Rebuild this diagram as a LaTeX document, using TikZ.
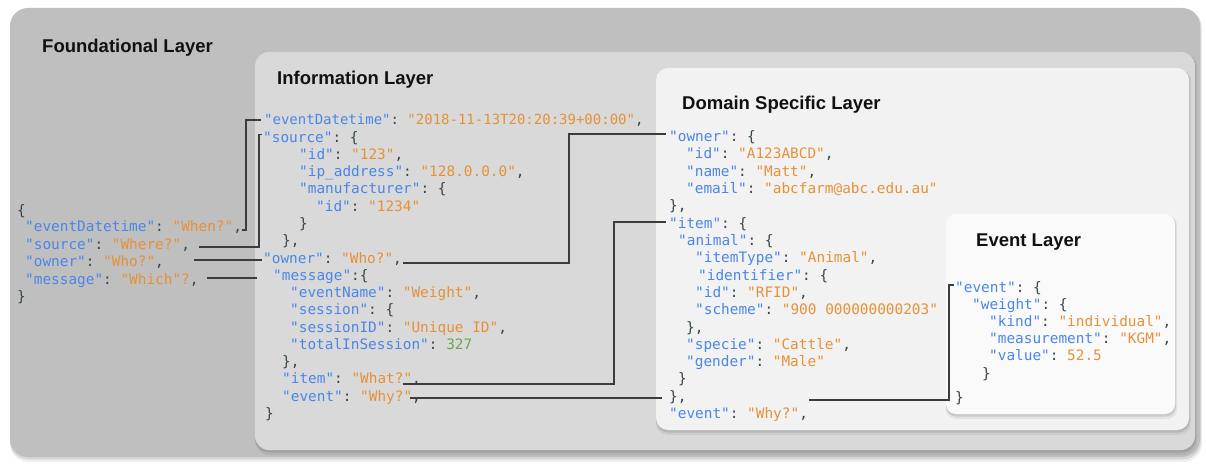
\documentclass[tikz,border=0pt]{standalone}
\usepackage{fontspec}
\setmainfont{Liberation Sans}
\setmonofont{DejaVu Sans Mono}
\usetikzlibrary{calc}

\definecolor{keyblue}{HTML}{4A86E8}
\definecolor{strorange}{HTML}{E69138}
\definecolor{numgreen}{HTML}{6AA84F}
\definecolor{punct}{HTML}{374646}
\definecolor{foundfill}{HTML}{BFBFBF}
\definecolor{infofill}{HTML}{D9D9D9}
\definecolor{domfill}{HTML}{F2F2F2}
\definecolor{evtfill}{HTML}{FAFAFA}
\definecolor{linkcol}{HTML}{3C3C3C}
\definecolor{titlecol}{HTML}{111111}

% JSON colouring: keys, string values, numbers
\newcommand\jk[1]{\textcolor{keyblue}{#1}}
\newcommand\js[1]{\textcolor{strorange}{#1}}
\newcommand\jn[1]{\textcolor{numgreen}{#1}}

\tikzset{
  layertitle/.style={anchor=base west, inner sep=0pt, text=titlecol,
    font=\fontsize{18.5}{22}\selectfont\bfseries},
  code/.style={anchor=base west, inner sep=0pt, text=punct,
    font=\fontsize{14.4}{17}\selectfont\ttfamily},
  smallcode/.style={code, font=\fontsize{14}{17}\selectfont\ttfamily},
  link/.style={draw=linkcol, line width=1.05pt},
  softshadow/.style={fill=black, opacity=#1},
}

% a layer panel with a soft shadow underneath
\newcommand\layerpanel[6]{%
  \fill[softshadow=0.06, rounded corners=#5] ($(#1,#2)+(0,1)$) rectangle ($(#3,#4)+(2,5)$);
  \fill[softshadow=0.10, rounded corners=#5] ($(#1,#2)+(0,1)$) rectangle ($(#3,#4)+(1,2.5)$);
  \fill[#6, rounded corners=#5] (#1,#2) rectangle (#3,#4);
}

\begin{document}
\begin{tikzpicture}[x=1pt, y=-1pt]
\useasboundingbox (0,0) rectangle (1206,470);
\fill[white] (0,0) rectangle (1206,470);

% nested layers
\layerpanel{10}{8}{1200}{457}{18pt}{foundfill}
\layerpanel{255}{52}{1195}{450}{14pt}{infofill}
\layerpanel{656}{68}{1189}{430}{12pt}{domfill}
\layerpanel{946}{214}{1175}{414}{10pt}{evtfill}

% layer titles
\node[layertitle] (tFound) at (42,52.3) {Foundational Layer};
\node[layertitle] (tInfo) at (277,84.3) {Information Layer};
\node[layertitle] (tDom) at (682,109.3) {Domain Specific Layer};
\node[layertitle] (tEvt) at (976,246.3) {Event Layer};

% foundational record
\node[code] (fOpen) at (17,215) {\{};
\node[code] (fEvt) at (25,232) {\jk{"eventDatetime"}: \js{"When?"},};
\node[code] (fSrc) at (25,249.3) {\jk{"source"}: \js{"Where?"},};
\node[code] (fOwn) at (25,266.6) {\jk{"owner"}: \js{"Who?"},};
\node[code] (fMsg) at (25,284) {\jk{"message"}: \js{"Which"?},};
\node[code] (fClose) at (17,301.3) {\}};

% information record
\node[smallcode] (iEvt) at (264,125) {\jk{"eventDatetime"}: \js{"2018-11-13T20:20:39+00:00"},};
\node[code] (iSrc) at (263,142.25) {\jk{"source"}: \{};
\node[code] (iSrcId) at (299,159.5) {\jk{"id"}: \js{"123"},};
\node[code] (iIp) at (299,176.75) {\jk{"ip\_address"}: \js{"128.0.0.0"},};
\node[code] (iMan) at (299,194) {\jk{"manufacturer"}: \{};
\node[code] (iManId) at (316,211.25) {\jk{"id"}: \js{"1234"}};
\node[code] (iManEnd) at (299,228.5) {\}};
\node[code] (iSrcEnd) at (282,245.75) {\},};
\node[code] (iOwn) at (263,263) {\jk{"owner"}: \js{"Who?"},};
\node[code] (iMsg) at (273,280.25) {\jk{"message"}:\{};
\node[code] (iName) at (290,297.5) {\jk{"eventName"}: \js{"Weight"},};
\node[code] (iSess) at (290,314.75) {\jk{"session"}: \{};
\node[code] (iSessId) at (290,332) {\jk{"sessionID"}: \js{"Unique ID"},};
\node[code] (iTotal) at (290,349.25) {\jk{"totalInSession"}: \jn{327}};
\node[code] (iSessEnd) at (282,366.5) {\},};
\node[code] (iItem) at (282,383.75) {\jk{"item"}: \js{"What?"},};
\node[code] (iEvent) at (282,401) {\jk{"event"}: \js{"Why?"},};
\node[code] (iClose) at (265,418.25) {\}};

% domain specific record
\node[code] (dOwn) at (669,141.7) {\jk{"owner"}: \{};
\node[code] (dId) at (686,159) {\jk{"id"}: \js{"A123ABCD"},};
\node[code] (dName) at (686,176.3) {\jk{"name"}: \js{"Matt"},};
\node[code] (dMail) at (686,193.6) {\jk{"email"}: \js{"abcfarm@abc.edu.au"}};
\node[code] (dOwnEnd) at (669,210.9) {\},};
\node[code] (dItem) at (669,228.2) {\jk{"item"}: \{};
\node[code] (dAnimal) at (678,245.5) {\jk{"animal"}: \{};
\node[code] (dType) at (695,262.8) {\jk{"itemType"}: \js{"Animal"},};
\node[code] (dIdent) at (698,280.1) {\jk{"identifier"}: \{};
\node[code] (dRfid) at (695,297.4) {\jk{"id"}: \js{"RFID"},};
\node[code] (dScheme) at (695,314.7) {\jk{"scheme"}: \js{"900 000000000203"}};
\node[code] (dIdentEnd) at (686,332) {\},};
\node[code] (dSpecie) at (686,349.3) {\jk{"specie"}: \js{"Cattle"},};
\node[code] (dGender) at (686,366.6) {\jk{"gender"}: \js{"Male"}};
\node[code] (dAnimalEnd) at (678,383.9) {\}};
\node[code] (dItemEnd) at (669,401.2) {\},};
\node[code] (dEvent) at (669,418.5) {\jk{"event"}: \js{"Why?"},};

% event record
\node[code] (eEvt) at (955,292.5) {\jk{"event"}: \{};
\node[code] (eWeight) at (972,309.6) {\jk{"weight"}: \{};
\node[code] (eKind) at (989,326.7) {\jk{"kind"}: \js{"individual"},};
\node[code] (eMeas) at (989,343.8) {\jk{"measurement"}: \js{"KGM"},};
\node[code] (eValue) at (989,360.9) {\jk{"value"}: \js{52.5}};
\node[code] (eWeightEnd) at (982,378) {\}};
\node[code] (eClose) at (955,402) {\}};

% foundational fields -> information record
\draw[link] ($(fEvt.base east)+(-0.5,-2)$) -| ($(iEvt.base west)+(-18,-5)$) -- ($(iEvt.base west)+(-3,-5)$);
\draw[link] ($(fSrc.base east)+(9.3,-2.3)$) -| ($(iSrc.base west)+(-4,-8)$) -- ($(iSrc.base west)+(-1,-8)$);
\draw[link] ($(fOwn.base east)+(30.3,-6.6)$) -- ($(iOwn.base west)+(-1,-3)$);
\draw[link] ($(fMsg.base east)+(8.6,-6)$) -- ($(iMsg.base west)+(-16,-2.25)$);

% information fields -> domain specific record
\draw[link] ($(iOwn.base east)+(1.3,0)$) -| ($(dOwn.base west)+(-100,-7.7)$) -- ($(dOwn.base west)+(-3,-7.7)$);
\draw[link] ($(iItem.base east)+(-17.7,0.25)$) -| ($(dItem.base west)+(-55,-6.2)$) -- ($(dItem.base west)+(-3,-6.2)$);
\draw[link] ($(iEvent.base east)+(-10.7,-3)$) -- ($(dItemEnd.base west)+(-7,-3.2)$);

% domain specific record -> event record
\draw[link] ($(dItemEnd.base east)+(122.7,-1.2)$) -| ($(eEvt.base west)+(-6,-7.5)$) -- ($(eEvt.base west)+(-1,-7.5)$);
\end{tikzpicture}
\end{document}
